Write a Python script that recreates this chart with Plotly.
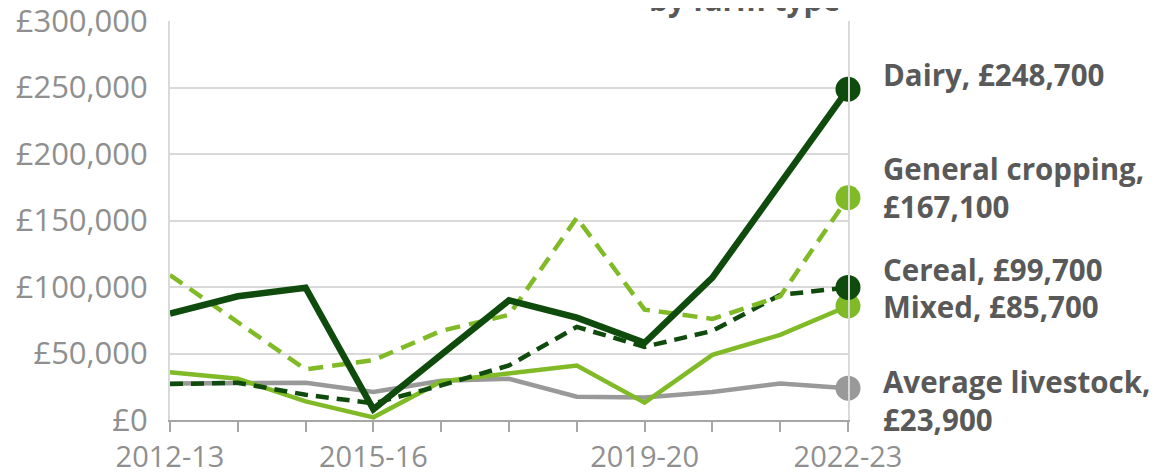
import plotly.graph_objects as go

years = ["2012-13", "2013-14", "2014-15", "2015-16", "2016-17", "2017-18",
         "2018-19", "2019-20", "2020-21", "2021-22", "2022-23"]
shown_ticks = ["2012-13", "2015-16", "2019-20", "2022-23"]

dairy = [80000, 93000, 99500, 8000, 49000, 90000, 77000, 58000, 107000, 177000, 248700]
general_cropping = [109000, 74000, 38000, 45000, 67000, 79000, 152000, 83000, 76000, 93000, 167100]
cereal = [27000, 28000, 19000, 12500, 26000, 41000, 70000, 55000, 67000, 94000, 99700]
mixed = [36000, 31000, 14000, 2000, 29000, 35000, 41000, 13000, 49000, 64000, 85700]
avg_livestock = [27500, 28000, 28000, 21000, 29500, 31000, 17500, 17000, 21000, 27500, 23900]

DARK = "#0f4b0c"
LIGHT = "#80ba27"
GREY = "#999999"
LABEL = "#595959"
TICK = "#8f8f8f"

series = [
    ("Average livestock", avg_livestock, GREY, "solid", 4.5, "Average livestock,<br>£{:,}", 15000),
    ("Mixed", mixed, LIGHT, "solid", 4.5, "Mixed, £{:,}", 85000),
    ("Cereal", cereal, DARK, "13px,8px", 4.5, "Cereal, £{:,}", 113000),
    ("General cropping", general_cropping, LIGHT, "15px,9px", 4.5, "General cropping,<br>£{:,}", 175000),
    ("Dairy", dairy, DARK, "solid", 6.5, "Dairy, £{:,}", 260000),
]

# the page body adds an 8px offset; compensate so the plot area lands where the reference has it
W, H = 1151, 468

fig = go.Figure()
for name, vals, color, dash, width, _, _ in series:
    fig.add_trace(go.Scatter(x=years, y=vals, mode="lines", name=name,
                             line=dict(color=color, width=width, dash=dash),
                             cliponaxis=False, showlegend=False))
for name, vals, color, dash, width, _, _ in series:
    fig.add_trace(go.Scatter(x=[years[-1]], y=[vals[-1]], mode="markers",
                             marker=dict(color=color, size=25),
                             cliponaxis=False, showlegend=False))

annotations = []
for name, vals, color, dash, width, fmt, ypos in series:
    annotations.append(dict(
        xref="paper", yref="y", x=1.049, y=ypos, xanchor="left", yanchor="middle",
        text=fmt.format(vals[-1]), showarrow=False, align="left",
        font=dict(family="Open Sans", size=29.5, color=LABEL, weight="bold")))
annotations.append(dict(
    xref="paper", yref="paper", x=0.848, y=0.9975, xanchor="center", yanchor="bottom",
    text="by farm type", showarrow=False,
    font=dict(family="Open Sans", size=30, color=LABEL, weight="bold")))

fig.update_layout(
    width=W, height=H,
    margin=dict(l=162, r=311, t=13, b=56),
    paper_bgcolor="white", plot_bgcolor="white",
    annotations=annotations,
    xaxis=dict(type="category", categoryorder="array", categoryarray=years,
               range=[0, 10], tickmode="array", tickvals=years,
               ticktext=[y if y in shown_ticks else "" for y in years],
               showgrid=False, showline=True, linecolor="#a6a6a6", linewidth=2,
               ticks="outside", ticklen=10, tickwidth=2, tickcolor="#a6a6a6",
               tickfont=dict(family="Open Sans", size=29, color=TICK),
               ticklabeloverflow="allow", ticklabelstandoff=0,
               zeroline=False, automargin=False),
    yaxis=dict(range=[0, 300000], tickvals=[0, 50000, 100000, 150000, 200000, 250000, 300000],
               ticktext=["£0", "£50,000", "£100,000", "£150,000", "£200,000", "£250,000", "£300,000"],
               showgrid=True, gridcolor="#d9d9d9", gridwidth=2,
               showline=True, linecolor="#d9d9d9", linewidth=2, mirror=True,
               zeroline=False, ticks="", ticklabelstandoff=14, automargin=False,
               ticklabeloverflow="allow",
               tickfont=dict(family="Open Sans", size=31, color=TICK)),
)
fig.write_html("out.html")
